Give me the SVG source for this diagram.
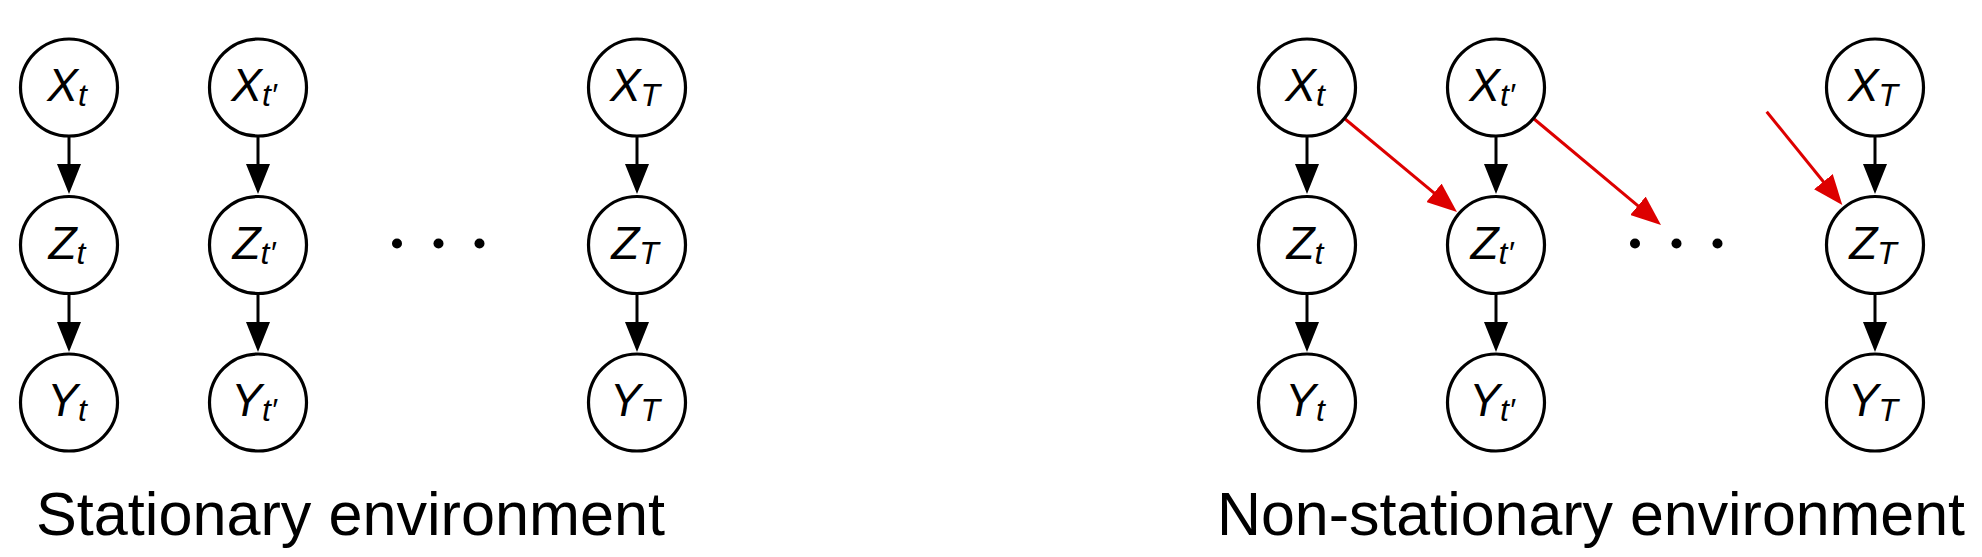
<svg xmlns="http://www.w3.org/2000/svg" width="1982" height="557" viewBox="0 0 1982 557">
<defs>
<style>
.node{fill:#fff;stroke:#000;stroke-width:3.2}
.lbl{font-family:"Liberation Sans",Arial,sans-serif;font-style:italic;font-size:46px;text-anchor:middle;fill:#000}
.sub{font-size:32px}
.edge{stroke:#000;stroke-width:3;fill:none}
.red{stroke:#dd0000;stroke-width:3;fill:none}
.dot{fill:#000}
.title{font-family:"Liberation Sans",Arial,sans-serif;font-size:62px;fill:#000}
</style>
<marker id="ah" markerUnits="userSpaceOnUse" markerWidth="30" markerHeight="24" viewBox="0 0 30 24" refX="20" refY="12" orient="auto">
<path d="M0,0 L30,12 L0,24 z" fill="#000"/>
</marker>
<marker id="ahr" markerUnits="userSpaceOnUse" markerWidth="30" markerHeight="24" viewBox="0 0 30 24" refX="20" refY="12" orient="auto">
<path d="M0,0 L30,12 L0,24 z" fill="#dd0000"/>
</marker>
</defs>
<rect width="1982" height="557" fill="#fff"/>

<g id="connectors">
<line class="edge" x1="69" y1="136" x2="69" y2="184" marker-end="url(#ah)"/>
<line class="edge" x1="69" y1="294" x2="69" y2="342" marker-end="url(#ah)"/>
<line class="edge" x1="258" y1="136" x2="258" y2="184" marker-end="url(#ah)"/>
<line class="edge" x1="258" y1="294" x2="258" y2="342" marker-end="url(#ah)"/>
<line class="edge" x1="637" y1="136" x2="637" y2="184" marker-end="url(#ah)"/>
<line class="edge" x1="637" y1="294" x2="637" y2="342" marker-end="url(#ah)"/>
<line class="edge" x1="1307" y1="136" x2="1307" y2="184" marker-end="url(#ah)"/>
<line class="edge" x1="1307" y1="294" x2="1307" y2="342" marker-end="url(#ah)"/>
<line class="edge" x1="1496" y1="136" x2="1496" y2="184" marker-end="url(#ah)"/>
<line class="edge" x1="1496" y1="294" x2="1496" y2="342" marker-end="url(#ah)"/>
<line class="edge" x1="1875" y1="136" x2="1875" y2="184" marker-end="url(#ah)"/>
<line class="edge" x1="1875" y1="294" x2="1875" y2="342" marker-end="url(#ah)"/>
<line class="red" x1="1344.5" y1="118.5" x2="1449.3" y2="205.6" marker-end="url(#ahr)"/>
<line class="red" x1="1533.5" y1="118.5" x2="1653.3" y2="218.6" marker-end="url(#ahr)"/>
<line class="red" x1="1766.7" y1="111.7" x2="1836.0" y2="197.2" marker-end="url(#ahr)"/>
</g>

<g id="s-xt"><circle class="node" cx="69" cy="87.5" r="48.5"/><text class="lbl" x="67" y="101">X<tspan class="sub" dy="5">t</tspan></text></g>
<g id="s-zt"><circle class="node" cx="69" cy="245" r="48.5"/><text class="lbl" x="67" y="258.5">Z<tspan class="sub" dy="5">t</tspan></text></g>
<g id="s-yt"><circle class="node" cx="69" cy="402.5" r="48.5"/><text class="lbl" x="67" y="416">Y<tspan class="sub" dy="5">t</tspan></text></g>

<g id="s-xt2"><circle class="node" cx="258" cy="87.5" r="48.5"/><text class="lbl" x="254" y="101">X<tspan class="sub" dy="5">t′</tspan></text></g>
<g id="s-zt2"><circle class="node" cx="258" cy="245" r="48.5"/><text class="lbl" x="254" y="258.5">Z<tspan class="sub" dy="5">t′</tspan></text></g>
<g id="s-yt2"><circle class="node" cx="258" cy="402.5" r="48.5"/><text class="lbl" x="254" y="416">Y<tspan class="sub" dy="5">t′</tspan></text></g>

<g id="s-dots"><circle class="dot" cx="397" cy="243.5" r="5"/><circle class="dot" cx="438.5" cy="243.5" r="5"/><circle class="dot" cx="479.5" cy="243.5" r="5"/></g>

<g id="s-xT"><circle class="node" cx="637" cy="87.5" r="48.5"/><text class="lbl" x="635" y="101">X<tspan class="sub" dy="5">T</tspan></text></g>
<g id="s-zT"><circle class="node" cx="637" cy="245" r="48.5"/><text class="lbl" x="635" y="258.5">Z<tspan class="sub" dy="5">T</tspan></text></g>
<g id="s-yT"><circle class="node" cx="637" cy="402.5" r="48.5"/><text class="lbl" x="635" y="416">Y<tspan class="sub" dy="5">T</tspan></text></g>

<g id="n-xt"><circle class="node" cx="1307" cy="87.5" r="48.5"/><text class="lbl" x="1305" y="101">X<tspan class="sub" dy="5">t</tspan></text></g>
<g id="n-zt"><circle class="node" cx="1307" cy="245" r="48.5"/><text class="lbl" x="1305" y="258.5">Z<tspan class="sub" dy="5">t</tspan></text></g>
<g id="n-yt"><circle class="node" cx="1307" cy="402.5" r="48.5"/><text class="lbl" x="1305" y="416">Y<tspan class="sub" dy="5">t</tspan></text></g>

<g id="n-xt2"><circle class="node" cx="1496" cy="87.5" r="48.5"/><text class="lbl" x="1492" y="101">X<tspan class="sub" dy="5">t′</tspan></text></g>
<g id="n-zt2"><circle class="node" cx="1496" cy="245" r="48.5"/><text class="lbl" x="1492" y="258.5">Z<tspan class="sub" dy="5">t′</tspan></text></g>
<g id="n-yt2"><circle class="node" cx="1496" cy="402.5" r="48.5"/><text class="lbl" x="1492" y="416">Y<tspan class="sub" dy="5">t′</tspan></text></g>

<g id="n-dots"><circle class="dot" cx="1635" cy="243.5" r="5"/><circle class="dot" cx="1676.5" cy="243.5" r="5"/><circle class="dot" cx="1717.5" cy="243.5" r="5"/></g>

<g id="n-xT"><circle class="node" cx="1875" cy="87.5" r="48.5"/><text class="lbl" x="1873" y="101">X<tspan class="sub" dy="5">T</tspan></text></g>
<g id="n-zT"><circle class="node" cx="1875" cy="245" r="48.5"/><text class="lbl" x="1873" y="258.5">Z<tspan class="sub" dy="5">T</tspan></text></g>
<g id="n-yT"><circle class="node" cx="1875" cy="402.5" r="48.5"/><text class="lbl" x="1873" y="416">Y<tspan class="sub" dy="5">T</tspan></text></g>

<g id="titles">
<text class="title" x="36" y="535" textLength="629" lengthAdjust="spacingAndGlyphs">Stationary environment</text>
<text class="title" x="1217" y="535" textLength="748" lengthAdjust="spacingAndGlyphs">Non-stationary environment</text>
</g>
</svg>
